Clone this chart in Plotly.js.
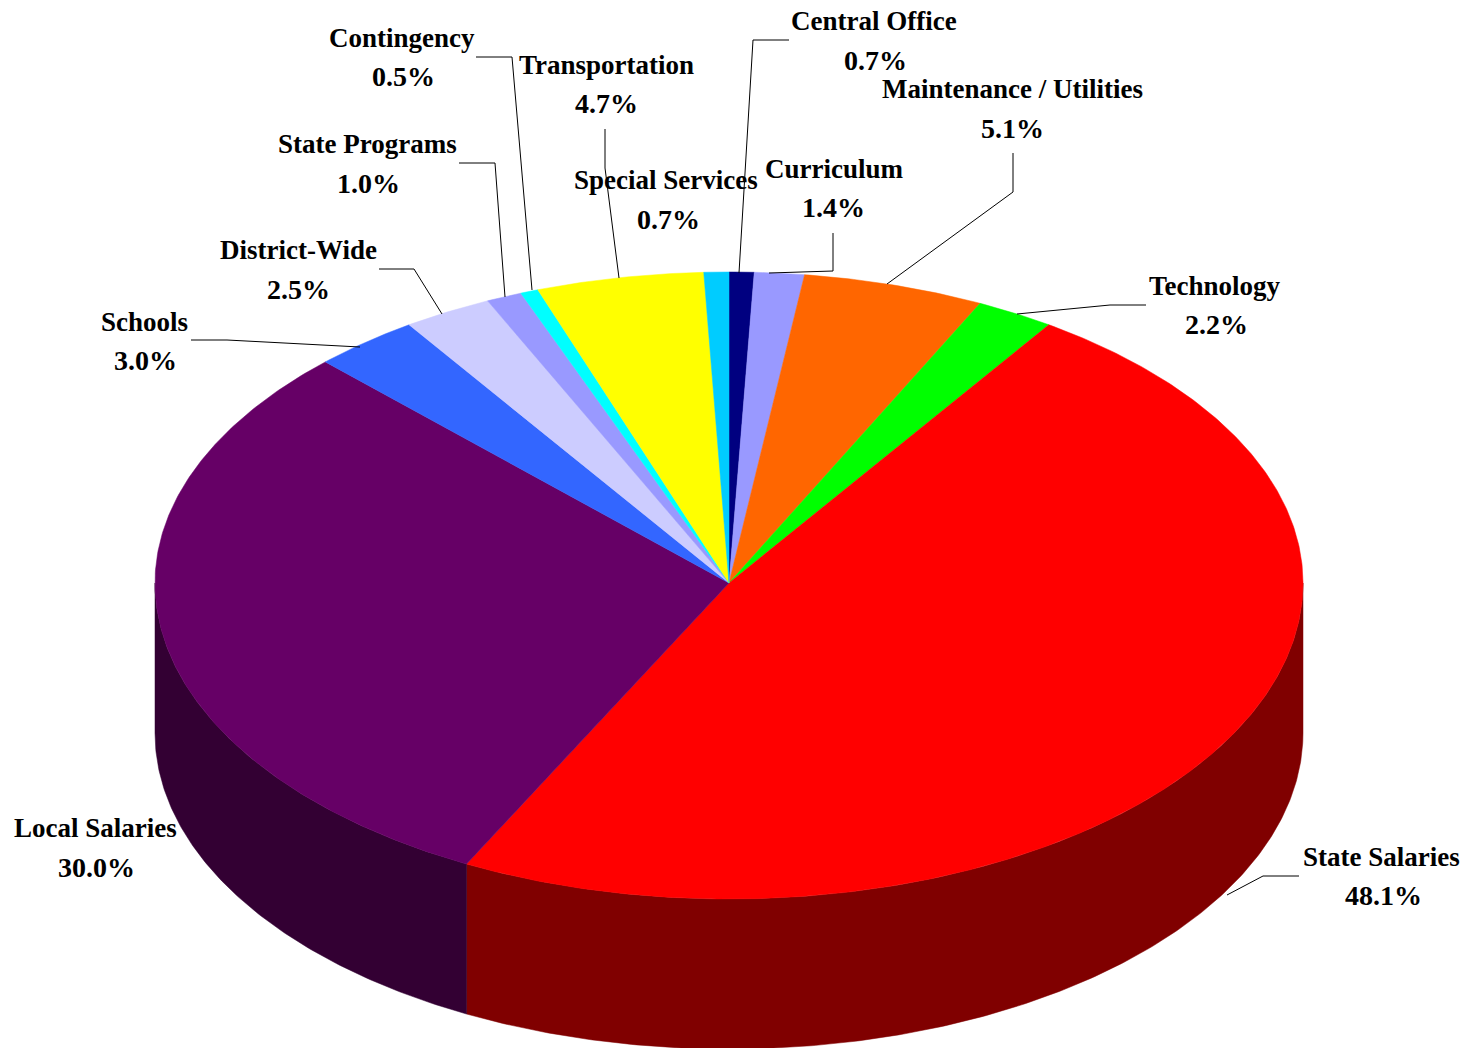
<!DOCTYPE html>
<html>
<head>
<meta charset="utf-8">
<script src="https://cdn.plot.ly/plotly-3.0.1.min.js"></script>
<style>html,body{margin:0;padding:0;background:#fff}#chart{width:1476px;height:1048px}</style>
</head>
<body>
<div id="chart"></div>
<script>
// Slices clockwise from 12 o'clock
const categories = ["Central Office","Curriculum","Maintenance / Utilities","Technology","State Salaries","Local Salaries","Schools","District-Wide","State Programs","Contingency","Transportation","Special Services"];
const percents = [0.7,1.4,5.1,2.2,48.1,30.0,3.0,2.5,1.0,0.5,4.7,0.7];
const topColors = ["#000080","#9999FF","#FF6600","#00FF00","#FF0000","#660066","#3366FF","#CCCCFF","#9999FF","#00FFFF","#FFFF00","#00CCFF"];
const sideColors = {"State Salaries":"#800000","Local Salaries":"#330033"};

// Label layout: centre x of name, centre x of percent, y of name, y of percent
const labelNameX = [874,834,1012,1215,1381,95,144,298,367,402,606,666];
const labelPctX  = [875,833,1012,1216,1383,96,145,298,368,403,606,668];
const labelNameY = [21,169,89,286,857,828,322,250,144,38,65,180];
const labelPctY  = [60,207,128,324,895,867,360,289,183,76,103,219];

// Leader paths by category index
const leaders = {
  0:[[789,40],[753,40],[739,273]],
  1:[[833,233],[833,271],[769,273]],
  2:[[1013,153],[1013,192],[887,284]],
  3:[[1146,305],[1110,305],[1017,314]],
  4:[[1299,876],[1263,876],[1227,895]],
  6:[[191,340],[227,340],[360,347]],
  7:[[379,269],[414,269],[442,314]],
  8:[[459,163],[495,163],[505,297]],
  9:[[476,57],[512,57],[532,290]],
  10:[[605,129],[605,168],[619,278]]
};

// Pie geometry in chart units
const cx = 729, cy = 583, rx = 574, ryUp = 311, ryDown = 316, depth = 150;
const NAME_FONT = {family:'"Liberation Serif", serif', size:27, color:'#000'};
const PCT_FONT = {family:'"Liberation Serif", serif', size:28, color:'#000'};

function pt(a){ // a = fraction of the full turn clockwise from top
  const t = a*2*Math.PI, c = Math.cos(t);
  return [cx + rx*Math.sin(t), cy - (c>0?ryUp:ryDown)*c];
}
function arc(a0,a1){
  const n = Math.max(2,Math.ceil((a1-a0)*720)), out=[];
  for(let i=0;i<=n;i++) out.push(pt(a0+(a1-a0)*i/n));
  return out;
}
const total = percents.reduce((s,v)=>s+v,0);
let cum = 0;
const sliceRanges = percents.map(v=>{const r=[cum/total,(cum+v)/total];cum+=v;return r;});

const traces = [];
// Side walls (visible between a quarter and three quarters of the turn)
categories.forEach((name,i)=>{
  if(!sideColors[name]) return;
  const a0=Math.max(sliceRanges[i][0],0.25), a1=Math.min(sliceRanges[i][1],0.75);
  if(a1<=a0) return;
  const top=arc(a0,a1), bot=top.map(p=>[p[0],p[1]+depth]).reverse(), poly=top.concat(bot);
  poly.push(poly[0]);
  traces.push({type:'scatter',mode:'lines',x:poly.map(p=>p[0]),y:poly.map(p=>p[1]),fill:'toself',
    fillcolor:sideColors[name],line:{color:sideColors[name],width:0.5},hoverinfo:'skip',showlegend:false});
});
// Top slices
categories.forEach((name,i)=>{
  const poly=[[cx,cy]].concat(arc(sliceRanges[i][0],sliceRanges[i][1]));
  poly.push([cx,cy]);
  traces.push({type:'scatter',mode:'lines',name:name,x:poly.map(p=>p[0]),y:poly.map(p=>p[1]),fill:'toself',
    fillcolor:topColors[i],line:{color:topColors[i],width:0.5},
    text:name+' '+percents[i].toFixed(1)+'%',hoverinfo:'text',showlegend:false});
});

const annotations=[];
categories.forEach((name,i)=>{
  annotations.push({x:labelNameX[i],y:labelNameY[i],text:'<b>'+name+'</b>',showarrow:false,xanchor:'center',yanchor:'middle',font:NAME_FONT});
  annotations.push({x:labelPctX[i],y:labelPctY[i],text:'<b>'+percents[i].toFixed(1)+'%</b>',showarrow:false,xanchor:'center',yanchor:'middle',font:PCT_FONT});
});
const shapes = Object.values(leaders).map(pts=>({
  type:'path',path:'M'+pts.map(p=>p.join(' ')).join('L'),
  line:{color:'#000',width:1},fillcolor:'rgba(0,0,0,0)',layer:'above'
}));

const axis = {visible:false,fixedrange:true,showgrid:false,zeroline:false};
Plotly.newPlot('chart',traces,{
  width:1476,height:1048,margin:{l:0,r:0,t:0,b:0},
  paper_bgcolor:'#fff',plot_bgcolor:'#fff',showlegend:false,
  xaxis:Object.assign({range:[0,1476]},axis),
  yaxis:Object.assign({range:[1048,0]},axis),
  annotations:annotations,shapes:shapes,hovermode:'closest'
},{displayModeBar:false,responsive:false});
</script>
</body>
</html>
